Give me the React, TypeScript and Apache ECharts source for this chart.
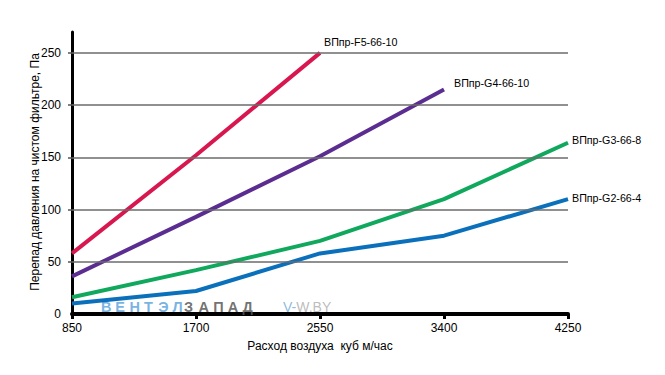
import React, { useEffect, useRef } from "react";
import * as echarts from "echarts";

const xTicks = [850, 1700, 2550, 3400, 4250];
const yTicks = [50, 100, 150, 200, 250];
const yLabels = [0, 50, 100, 150, 200, 250];

const f5X = [850, 1700, 2550];
const f5Y = [58, 152, 250];
const g4X = [850, 1700, 2550, 3400];
const g4Y = [36, 93, 151, 215];
const g3X = [850, 1700, 2550, 3400, 4250];
const g3Y = [16, 42, 70, 110, 164];
const g2X = [850, 1700, 2550, 3400, 4250];
const g2Y = [10, 22, 58, 75, 110];

const seriesNames = ["ВПпр-F5-66-10", "ВПпр-G4-66-10", "ВПпр-G3-66-8", "ВПпр-G2-66-4"];
const colors = ["#d8174f", "#5c2d91", "#10a85c", "#0b70bb"];
const labelOffsets = [[-4, -11], [2, -6], [-4, -3], [-4, -1]];

const yTitle = "Перепад давления на чистом фильтре, Па";
const xTitle = "Расход воздуха  куб м/час";
const wmBlue = "ВЕНТЭЛ";
const wmGray = "ЗАПАД";

const zip = (xs: number[], ys: number[]) => xs.map((x, i) => [x, ys[i]]);

export default function App() {
  const ref = useRef<HTMLDivElement>(null);
  useEffect(() => {
    if (!ref.current) return;
    const chart = echarts.init(ref.current, null, { renderer: "svg" });
    const datasets = [zip(f5X, f5Y), zip(g4X, g4Y), zip(g3X, g3Y), zip(g2X, g2Y)];
    const font = "Liberation Sans, Arial, sans-serif";
    const letter = (ch: string, x: number, fill: string) => ({
      type: "text",
      x,
      y: 307,
      z: 1,
      silent: true,
      style: {
        text: ch,
        fill,
        opacity: 0.85,
        fontSize: 14.5,
        fontWeight: "bold",
        fontFamily: font,
        verticalAlign: "middle",
        align: "left",
      },
    });
    const graphics = [
      ...wmBlue.split("").map((ch, i) => letter(ch, 101 + i * 14.3, "#5fa5dc")),
      ...wmGray.split("").map((ch, i) => letter(ch, 184 + i * 14.6, "#5a5a5a")),
      {
        type: "text",
        x: 283,
        y: 307,
        z: 1,
        silent: true,
        style: {
          text: "{a|V-}{b|W.BY}",
          verticalAlign: "middle",
          opacity: 0.9,
          rich: {
            a: { fill: "#7fb3dd", fontSize: 14, fontFamily: font },
            b: { fill: "#b5b5b5", fontSize: 14, fontFamily: font },
          },
        },
      },
      {
        type: "text",
        x: 35,
        y: 172,
        rotation: Math.PI / 2,
        silent: true,
        style: {
          text: yTitle,
          fill: "#000",
          fontSize: 12,
          fontFamily: font,
          align: "center",
          verticalAlign: "middle",
        },
      },
    ];
    chart.setOption({
      animation: false,
      textStyle: { fontFamily: font },
      grid: { left: 72, right: 97, top: 32, bottom: 61, containLabel: false },
      xAxis: {
        type: "value",
        min: 850,
        max: 4250,
        interval: 850,
        name: xTitle,
        nameLocation: "middle",
        nameGap: 26,
        nameTextStyle: { color: "#000", fontSize: 12, fontFamily: font },
        axisLine: { show: true, onZero: false, lineStyle: { color: "#000", width: 4 } },
        axisTick: { show: true, inside: false, length: 5, lineStyle: { color: "#000", width: 3 }, customValues: xTicks },
        axisLabel: {
          color: "#000",
          fontSize: 12,
          margin: 8,
          fontFamily: font,
          customValues: xTicks,
          formatter: (v: number) => String(v),
        },
        splitLine: { show: false },
      },
      yAxis: {
        type: "value",
        min: 0,
        max: 270,
        interval: 50,
        axisLine: { show: true, onZero: false, lineStyle: { color: "#000", width: 3 } },
        axisTick: { show: true, length: 4, lineStyle: { color: "#555", width: 1.5 }, customValues: yTicks },
        axisLabel: {
          color: "#000",
          fontSize: 12,
          margin: 11,
          fontFamily: font,
          customValues: yLabels,
          formatter: (v: number) => String(v),
        },
        splitLine: { show: false },
      },
      graphic: graphics,
      series: [
        {
          type: "line",
          name: "grid",
          data: [],
          silent: true,
          markLine: {
            silent: true,
            symbol: "none",
            label: { show: false },
            lineStyle: { color: "#6b6b6b", width: 1.6, type: "solid" },
            data: yTicks.map((v) => ({ yAxis: v })),
          },
          z: 1,
        },
        ...datasets.map((d, i) => ({
          type: "line",
          name: seriesNames[i],
          data: d,
          symbol: "none",
          smooth: false,
          lineStyle: { color: colors[i], width: 4 },
          itemStyle: { color: colors[i] },
          z: 3,
          endLabel: {
            show: true,
            formatter: "{a}",
            color: "#000",
            fontSize: 10.7,
            fontFamily: font,
            offset: labelOffsets[i],
          },
        })),
      ],
    });
    return () => chart.dispose();
  }, []);
  return (
    <div
      ref={ref}
      style={{ position: "fixed", left: 0, top: 0, width: 665, height: 375, background: "#fff" }}
    />
  );
}
